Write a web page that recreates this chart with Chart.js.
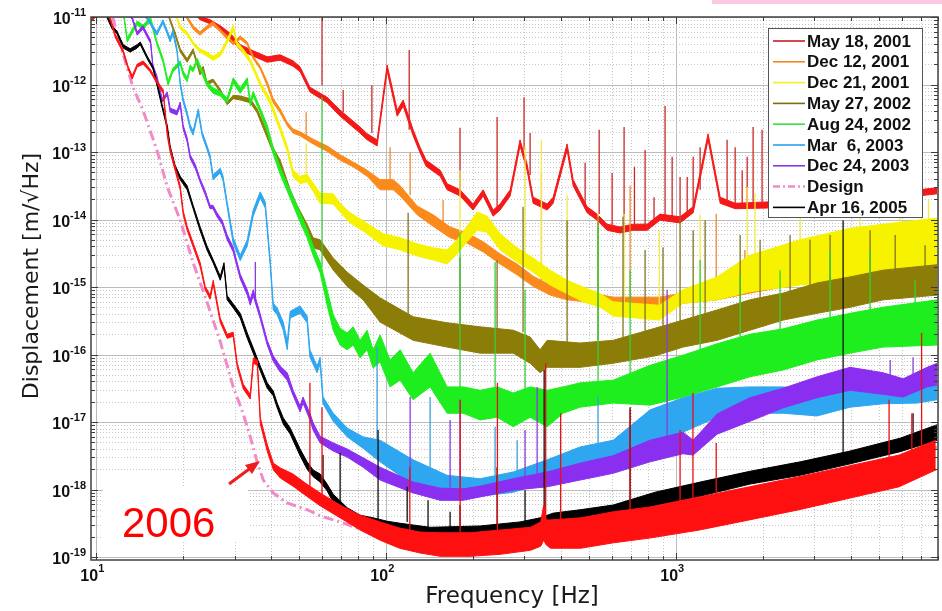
<!DOCTYPE html>
<html>
<head>
<meta charset="utf-8">
<script src="https://cdn.jsdelivr.net/npm/chart.js@4.4.1/dist/chart.umd.min.js"></script>
<style>
  html, body { margin: 0; padding: 0; background: #fff; }
  #wrap { width: 942px; height: 611px; position: relative; }
</style>
</head>
<body>
<div id="wrap"><canvas id="noiseChart"></canvas></div>
<script>
// Values. Frequencies in Hz, displacement as log10(m/sqrt(Hz)).
// hi / lo are the upper and lower edge of each noisy trace.

// May 18, 2001
const may2001Freq = [22.0, 22.8, 24.7, 26.8, 29.0, 31.4, 34.8, 38.9, 43.1, 47.8, 50.5, 54.6, 62.6, 69.4, 81.3, 86.0, 93.1, 100.8, 109.2, 114.5, 123.9, 130.9, 137.3, 153.6, 162.3, 179.8, 199.5, 216.1, 233.9, 247.2, 267.8, 289.6, 306.2, 321.3, 359.3, 376.6, 420.8, 441.5, 493.2, 533.8, 578, 641, 710.9, 794.3, 880, 1032, 1145, 1289, 1419, 1598, 2059, 2678, 3981, 5918, 7943];
const may2001Hi = [-10.90, -10.99, -11.04, -11.13, -11.24, -11.41, -11.50, -11.59, -11.56, -11.65, -11.74, -12.04, -12.19, -12.38, -12.63, -12.73, -12.82, -11.71, -12.38, -12.23, -12.67, -12.93, -13.12, -13.27, -13.47, -13.56, -13.77, -13.56, -13.86, -13.77, -13.56, -12.82, -13.18, -13.67, -13.77, -13.67, -12.88, -13.41, -13.81, -13.92, -14.07, -14.11, -14.07, -14.07, -13.92, -13.96, -13.81, -12.73, -13.67, -13.76, -13.74, -13.71, -13.67, -13.59, -13.53];
const may2001Lo = [-10.96, -11.04, -11.10, -11.19, -11.31, -11.49, -11.58, -11.67, -11.64, -11.73, -11.81, -12.11, -12.27, -12.47, -12.72, -12.82, -12.91, -11.80, -12.47, -12.32, -12.76, -13.01, -13.21, -13.36, -13.56, -13.65, -13.86, -13.65, -13.95, -13.86, -13.65, -12.91, -13.27, -13.76, -13.86, -13.76, -12.97, -13.50, -13.90, -14.01, -14.16, -14.20, -14.16, -14.16, -14.01, -14.05, -13.90, -12.82, -13.76, -13.84, -13.83, -13.80, -13.76, -13.68, -13.62];
const may2001SpikeFreq = [60.1, 71.1, 89.3, 120.1, 179.8, 241.4, 299, 313.7, 485.5, 542.8, 601.6, 661.6, 718.3, 781.7, 839.3, 916, 969, 1032, 1092, 1145, 1210, 1499, 1598, 1690, 1758, 1843, 1979];
const may2001SpikeBase = [-12.01, -12.41, -12.72, -12.67, -13.59, -13.86, -12.97, -13.34, -13.81, -13.92, -14.08, -14.11, -14.08, -14.07, -14.01, -13.95, -13.98, -13.98, -13.93, -13.86, -13.56, -13.71, -13.79, -13.79, -13.79, -13.79, -13.79];
const may2001SpikeTop = [-10.90, -12.08, -12.01, -11.49, -12.64, -12.48, -12.19, -12.72, -13.16, -12.67, -13.31, -12.63, -13.22, -12.97, -13.67, -12.32, -13.07, -13.37, -13.37, -13.07, -12.93, -12.82, -12.93, -13.27, -13.07, -12.63, -12.67];

// Dec 12, 2001
const dec12Freq = [19.95, 20.6, 21.6, 22.8, 24.1, 25.3, 26.8, 28.3, 29.7, 31.4, 33.2, 34.8, 36.8, 38.9, 40.8, 43.1, 45.6, 47.8, 50.5, 56.0, 62.6, 69.4, 77.0, 86.0, 95.3, 105.7, 111.8, 127.9, 145.2, 166.2, 190.2, 216.1, 247.2, 283, 321.3, 367.8, 420.8, 466.6, 606.4, 875, 1057, 1385, 1797, 2339, 3063, 3981, 5175, 7943];
const dec12Hi = [-10.90, -10.99, -11.13, -11.22, -11.13, -11.07, -11.18, -11.28, -11.37, -11.28, -11.37, -11.58, -11.73, -11.96, -12.21, -12.36, -12.56, -12.66, -12.70, -12.81, -12.91, -13.04, -13.15, -13.27, -13.41, -13.41, -13.50, -13.80, -13.93, -14.11, -14.20, -14.33, -14.51, -14.66, -14.84, -14.97, -15.04, -15.06, -15.15, -15.15, -15.09, -15.04, -14.94, -14.85, -14.75, -14.64, -14.56, -14.45];
const dec12Lo = [-10.94, -11.03, -11.18, -11.27, -11.18, -11.12, -11.22, -11.33, -11.41, -11.33, -11.41, -11.62, -11.77, -12.02, -12.27, -12.42, -12.61, -12.72, -12.76, -12.88, -12.99, -13.12, -13.22, -13.36, -13.56, -13.56, -13.65, -13.93, -14.10, -14.27, -14.35, -14.48, -14.66, -14.82, -14.99, -15.12, -15.19, -15.21, -15.30, -15.30, -15.24, -15.19, -15.09, -15.00, -14.90, -14.79, -14.70, -14.57];
const dec12SpikeFreq = [53.0, 103.2, 121, 157.2, 343.2, 694, 1375, 1726];
const dec12SpikeBase = [-12.75, -13.44, -13.64, -14.04, -15.04, -15.19, -15.07, -14.97];
const dec12SpikeTop = [-12.41, -12.93, -13.01, -13.71, -13.30, -13.50, -13.92, -14.45];

// Dec 21, 2001
const dec21Freq = [18.0, 19.0, 19.5, 20.6, 21.6, 22.8, 24.1, 25.3, 26.8, 28.3, 29.7, 30.6, 32.1, 34.0, 36.8, 39.8, 43.1, 45.6, 47.8, 50.5, 53.4, 56.0, 59.2, 65.7, 69.4, 74.6, 83.3, 97.6, 111.8, 127.9, 145.2, 162.3, 175.6, 190.2, 206, 223, 247.2, 283, 321.3, 367.8, 420.8, 477.6, 547.3, 606.4, 875, 1057, 1385, 1797, 2678, 3981, 5918, 7943];
const dec21Hi = [-10.90, -10.99, -11.13, -11.22, -11.37, -11.47, -11.52, -11.58, -11.52, -11.33, -11.12, -11.37, -11.47, -11.62, -11.96, -12.21, -12.61, -12.91, -13.27, -13.36, -13.33, -13.46, -13.61, -13.62, -13.76, -13.89, -14.02, -14.21, -14.27, -14.36, -14.42, -14.45, -14.30, -14.10, -13.89, -13.95, -14.21, -14.42, -14.57, -14.75, -14.90, -15.00, -15.10, -15.22, -15.27, -15.04, -14.85, -14.53, -14.30, -14.13, -14.04, -13.98];
const dec21Lo = [-10.94, -11.03, -11.18, -11.27, -11.41, -11.52, -11.58, -11.64, -11.58, -11.39, -11.19, -11.43, -11.53, -11.68, -12.02, -12.29, -12.69, -12.99, -13.37, -13.47, -13.44, -13.58, -13.76, -13.77, -13.89, -14.04, -14.17, -14.39, -14.45, -14.54, -14.60, -14.66, -14.51, -14.33, -14.16, -14.19, -14.45, -14.63, -14.78, -14.97, -15.10, -15.22, -15.30, -15.43, -15.49, -15.24, -15.19, -15.07, -14.97, -14.90, -14.82, -14.75];
const dec21SpikeFreq = [53.0, 179.8, 301.4, 343.2, 420.8, 538, 661.6, 875, 1210, 1758, 1871, 2678, 4311, 5918, 7420];
const dec21SpikeBase = [-13.41, -14.38, -14.67, -14.78, -14.93, -15.10, -15.24, -15.27, -15.01, -14.63, -14.60, -14.38, -14.16, -14.07, -14.01];
const dec21SpikeTop = [-12.87, -13.27, -12.91, -12.82, -13.64, -13.92, -13.92, -14.16, -13.93, -13.52, -13.61, -13.71, -13.64, -13.56, -13.71];

// May 27, 2002
const may2002Freq = [17.6, 18.0, 18.7, 19.5, 20.6, 21.6, 22.3, 22.8, 23.4, 24.1, 25.3, 26.8, 28.3, 29.7, 31.4, 34.0, 35.9, 38.3, 40.8, 43.1, 46.7, 49.3, 53.4, 56.0, 59.2, 65.7, 73.4, 83.3, 95.3, 123.9, 162.3, 210.9, 274.4, 313.7, 339.6, 359.3, 466.6, 606.4, 846.7, 1057, 1385, 1797, 2339, 3063, 3981, 5175, 7943];
const may2002Hi = [-10.90, -11.03, -11.22, -11.47, -11.62, -11.47, -11.67, -11.81, -11.73, -11.96, -11.92, -12.07, -12.26, -12.16, -12.17, -12.21, -12.36, -12.64, -12.94, -13.12, -13.56, -13.79, -14.07, -14.27, -14.30, -14.57, -14.78, -14.97, -15.16, -15.44, -15.53, -15.59, -15.64, -15.74, -15.93, -15.79, -15.83, -15.79, -15.61, -15.49, -15.34, -15.19, -15.09, -14.94, -14.85, -14.75, -14.67];
const may2002Lo = [-10.94, -11.07, -11.27, -11.52, -11.67, -11.52, -11.71, -11.86, -11.77, -12.01, -11.96, -12.11, -12.30, -12.21, -12.23, -12.27, -12.42, -12.72, -13.01, -13.21, -13.65, -13.89, -14.19, -14.42, -14.45, -14.75, -14.99, -15.19, -15.52, -15.79, -15.89, -15.98, -15.98, -16.13, -16.27, -16.19, -16.19, -16.13, -16.02, -15.89, -15.79, -15.64, -15.49, -15.39, -15.30, -15.19, -15.12];
const may2002SpikeFreq = [119.1, 179.8, 241.4, 296.6, 420.8, 538, 656, 781.7, 901, 1032, 1145, 1259, 1663, 1948, 2472, 2896, 3396, 4666, 5694, 7220];
const may2002SpikeBase = [-15.46, -15.56, -15.64, -15.67, -15.83, -15.79, -15.79, -15.71, -15.64, -15.52, -15.49, -15.44, -15.27, -15.19, -15.07, -15.00, -14.94, -14.79, -14.75, -14.69];
const may2002SpikeTop = [-13.90, -14.56, -14.60, -13.81, -14.01, -13.96, -13.96, -14.45, -14.41, -13.96, -14.16, -14.01, -14.23, -14.30, -14.23, -14.30, -14.23, -14.16, -14.23, -14.38];

// Aug 24, 2002
const aug2002Freq = [12.4, 12.8, 13.4, 13.85, 14.5, 15.4, 16.2, 17.0, 17.7, 18.4, 19.5, 19.95, 20.6, 21.1, 21.6, 22.3, 22.8, 24.1, 25.3, 26.8, 28.3, 29.7, 31.4, 33.2, 34.0, 34.8, 36.8, 38.9, 40.8, 43.1, 45.6, 47.8, 50.5, 53.4, 56.0, 59.2, 62.6, 65.7, 69.4, 73.4, 77.0, 81.3, 86.0, 90.2, 95.3, 103.2, 111.8, 123.9, 141.8, 162.3, 184.3, 210.9, 241.4, 274.4, 313.7, 359.3, 407.7, 466.6, 606.4, 813.5, 1057, 1385, 1797, 2339, 3063, 3981, 5175, 7943];
const aug2002Hi = [-10.90, -11.31, -11.16, -11.06, -11.12, -11.00, -11.36, -11.61, -11.95, -11.76, -11.65, -11.80, -11.90, -11.71, -11.76, -11.61, -11.71, -11.95, -12.05, -12.10, -12.20, -11.90, -12.05, -11.90, -12.24, -12.10, -12.35, -12.60, -12.93, -13.22, -13.47, -13.67, -13.90, -14.14, -14.39, -14.63, -15.04, -15.41, -15.61, -15.68, -15.59, -15.79, -15.64, -15.93, -15.71, -16.08, -15.93, -16.27, -15.98, -16.48, -16.48, -16.53, -16.48, -16.57, -16.48, -16.53, -16.48, -16.42, -16.38, -16.16, -16.01, -15.84, -15.70, -15.62, -15.49, -15.39, -15.30, -15.19];
const aug2002Lo = [-10.94, -11.37, -11.22, -11.12, -11.18, -11.06, -11.41, -11.67, -12.01, -11.81, -11.71, -11.86, -11.96, -11.77, -11.81, -11.67, -11.77, -12.02, -12.13, -12.17, -12.27, -11.98, -12.13, -11.98, -12.32, -12.17, -12.42, -12.69, -13.03, -13.33, -13.58, -13.79, -14.04, -14.27, -14.53, -14.79, -15.27, -15.64, -15.86, -15.93, -15.86, -16.05, -15.93, -16.20, -16.11, -16.48, -16.38, -16.67, -16.48, -16.87, -16.87, -16.97, -16.93, -17.07, -16.93, -17.07, -16.87, -16.78, -16.72, -16.75, -16.63, -16.48, -16.33, -16.23, -16.08, -15.98, -15.89, -15.86];
const aug2002SpikeFreq = [60.1, 179.8, 237.6, 301.4, 538, 694, 1210, 1663, 2283, 3396, 4666, 6670];
const aug2002SpikeBase = [-14.70, -16.60, -16.56, -16.56, -16.45, -16.45, -16.01, -15.79, -15.71, -15.49, -15.34, -15.27];
const aug2002SpikeTop = [-12.19, -14.19, -14.63, -15.04, -14.11, -14.75, -14.60, -14.82, -14.75, -14.45, -14.45, -14.90];

// Mar 6, 2003
const mar2003Freq = [14.5, 15.0, 16.2, 17.0, 18.0, 18.4, 19.0, 19.5, 19.95, 20.6, 21.1, 21.6, 22.5, 23.2, 24.1, 24.7, 25.3, 26.8, 27.4, 28.3, 29.7, 31.4, 33.2, 34.8, 36.8, 38.3, 39.8, 40.8, 42.1, 44.2, 45.6, 46.7, 50.5, 53.4, 54.6, 57.8, 59.2, 60.6, 65.7, 73.4, 83.3, 95.3, 123.9, 162.3, 210.9, 274.4, 359.3, 466.6, 606.4, 813.5, 1057, 1385, 1797, 2339, 3063, 3981, 5175, 6777, 7943];
const mar2003Hi = [-10.93, -11.00, -11.22, -11.04, -11.31, -11.19, -11.46, -11.96, -12.20, -12.41, -12.60, -12.69, -12.36, -12.70, -12.90, -13.04, -13.34, -13.24, -13.36, -13.74, -14.27, -14.53, -14.30, -13.86, -13.59, -13.74, -14.57, -15.24, -15.31, -15.52, -15.81, -15.36, -15.28, -15.43, -15.93, -16.17, -16.04, -16.63, -16.87, -17.09, -17.22, -17.27, -17.56, -17.79, -17.84, -17.74, -17.56, -17.37, -17.27, -16.82, -16.64, -16.50, -16.48, -16.48, -16.53, -16.48, -16.50, -16.47, -16.38];
const mar2003Lo = [-10.97, -11.04, -11.27, -11.09, -11.37, -11.25, -11.52, -12.02, -12.26, -12.47, -12.66, -12.75, -12.42, -12.76, -12.96, -13.10, -13.41, -13.31, -13.43, -13.81, -14.36, -14.61, -14.39, -13.95, -13.68, -13.83, -14.67, -15.34, -15.41, -15.64, -15.93, -15.46, -15.39, -15.53, -16.04, -16.27, -16.14, -16.73, -16.99, -17.22, -17.39, -17.59, -17.93, -18.10, -18.10, -18.04, -17.89, -17.70, -17.59, -17.27, -17.15, -16.93, -16.87, -16.87, -16.91, -16.78, -16.73, -16.72, -16.67];
const mar2003SpikeFreq = [93.1, 141.8, 237.6, 283, 538, 931];
const mar2003SpikeBase = [-17.27, -17.71, -17.86, -17.79, -17.39, -16.85];
const mar2003SpikeTop = [-15.89, -16.63, -17.07, -17.27, -16.63, -16.38];

// Dec 24, 2003
const dec2003Freq = [12.9, 13.3, 13.85, 14.5, 15.4, 15.7, 16.2, 16.9, 17.6, 18.0, 19.0, 19.5, 19.95, 20.6, 21.1, 22.0, 22.8, 23.8, 24.7, 25.3, 26.1, 27.2, 28.3, 29.7, 30.6, 31.4, 33.2, 34.0, 34.8, 36.8, 38.9, 40.8, 43.1, 45.6, 47.8, 50.5, 51.7, 54.6, 56.0, 59.2, 65.7, 73.4, 83.3, 95.3, 123.9, 153.6, 184.3, 210.9, 274.4, 359.3, 466.6, 606.4, 813.5, 1057, 1145, 1385, 1797, 2339, 3063, 3981, 5175, 6066, 7338, 7943];
const dec2003Hi = [-10.93, -10.99, -11.22, -11.13, -11.34, -11.71, -11.87, -12.21, -12.11, -12.35, -12.39, -12.26, -12.60, -12.79, -13.04, -13.19, -13.39, -13.58, -13.79, -13.79, -13.90, -14.01, -14.23, -14.41, -14.63, -14.81, -15.04, -15.19, -15.04, -15.40, -15.79, -16.02, -16.17, -16.27, -16.53, -16.76, -16.63, -16.87, -17.01, -17.21, -17.31, -17.40, -17.53, -17.67, -17.89, -17.98, -17.99, -17.95, -17.84, -17.74, -17.61, -17.50, -17.27, -17.15, -17.27, -16.88, -16.64, -16.50, -16.33, -16.19, -16.27, -16.36, -16.19, -16.13];
const dec2003Lo = [-10.97, -11.03, -11.27, -11.18, -11.39, -11.76, -11.92, -12.26, -12.16, -12.41, -12.45, -12.32, -12.66, -12.85, -13.10, -13.25, -13.44, -13.64, -13.84, -13.84, -13.96, -14.07, -14.30, -14.48, -14.70, -14.88, -15.12, -15.27, -15.13, -15.47, -15.86, -16.10, -16.26, -16.38, -16.61, -16.85, -16.72, -16.97, -17.12, -17.31, -17.43, -17.52, -17.67, -17.86, -18.05, -18.16, -18.16, -18.11, -18.01, -17.96, -17.86, -17.76, -17.59, -17.47, -17.49, -17.18, -16.99, -16.79, -16.64, -16.53, -16.59, -16.63, -16.48, -16.45];
const dec2003SpikeFreq = [35.4, 121, 166.2, 179.8, 301.4, 331.7, 931, 5473, 6563];
const dec2003SpikeBase = [-15.19, -17.92, -18.08, -18.08, -17.93, -17.86, -17.27, -16.32, -16.35];
const dec2003SpikeTop = [-14.63, -16.63, -16.97, -16.67, -17.12, -16.48, -15.04, -16.08, -16.04];

// Design
const designFreq = [11.4, 11.9, 13.4, 14.5, 16.2, 17.6, 19.5, 21.6, 24.1, 26.8, 29.7, 32.1, 34.0, 35.9, 37.7, 40.8, 45.6, 53.4, 59.2, 69.4, 112, 314, 1000, 3980, 7940];
const designLog = [-11.00, -11.30, -12.04, -12.38, -12.97, -13.52, -14.01, -14.64, -15.22, -15.81, -16.48, -16.87, -17.22, -17.59, -17.86, -18.05, -18.20, -18.30, -18.39, -18.48, -18.80, -18.75, -18.45, -17.85, -17.37];

// Apr 16, 2005
const apr2005Freq = [10.9, 11.36, 11.8, 12.4, 13.1, 13.85, 14.2, 15.0, 15.7, 16.2, 16.9, 17.6, 18.0, 18.7, 19.5, 20.6, 21.6, 22.8, 24.1, 25.3, 26.8, 27.6, 28.3, 29.7, 31.4, 33.2, 34.8, 36.8, 38.9, 40.8, 42.1, 44.2, 46.7, 50.5, 53.4, 56.0, 59.2, 62.6, 65.7, 73.4, 81.3, 90.2, 100.8, 111.8, 141.8, 210.9, 289.6, 339.6, 376.6, 466.6, 606.4, 846.7, 1210, 1797, 2678, 3981, 5918, 7943];
const apr2005Hi = [-10.97, -11.13, -11.21, -11.41, -11.47, -11.41, -11.37, -11.58, -11.73, -11.96, -12.30, -12.61, -12.91, -13.19, -13.36, -13.50, -13.79, -14.10, -14.39, -14.59, -14.84, -14.64, -15.13, -15.25, -15.39, -15.68, -15.90, -16.17, -16.42, -16.54, -16.72, -16.94, -17.09, -17.40, -17.59, -17.71, -17.77, -17.92, -18.07, -18.27, -18.38, -18.42, -18.47, -18.50, -18.56, -18.54, -18.48, -18.42, -18.35, -18.30, -18.23, -18.04, -17.89, -17.73, -17.59, -17.43, -17.24, -17.04];
const apr2005Lo = [-11.01, -11.18, -11.25, -11.46, -11.52, -11.46, -11.41, -11.62, -11.77, -12.01, -12.35, -12.66, -12.96, -13.24, -13.41, -13.56, -13.84, -14.16, -14.45, -14.64, -14.90, -14.70, -15.19, -15.31, -15.46, -15.76, -15.98, -16.24, -16.50, -16.61, -16.79, -17.03, -17.18, -17.50, -17.70, -17.81, -17.89, -18.02, -18.19, -18.39, -18.51, -18.57, -18.63, -18.67, -18.76, -18.72, -18.66, -18.63, -18.57, -18.54, -18.44, -18.24, -18.10, -17.92, -17.79, -17.62, -17.44, -17.27];
const apr2005SpikeFreq = [60.6, 69.4, 93.8, 118.2, 139.5, 166.2, 179.8, 241.4, 301.4, 350.7, 694, 3766, 6563];
const apr2005SpikeBase = [-17.83, -18.23, -18.45, -18.48, -18.57, -18.57, -18.57, -18.57, -18.48, -18.42, -18.23, -17.49, -17.16];
const apr2005SpikeTop = [-17.49, -17.46, -17.12, -17.96, -18.16, -18.33, -18.23, -17.67, -18.01, -16.23, -16.78, -14.01, -16.87];

// 2006 (no legend entry)
const run2006Freq = [9.61, 10.66, 11.18, 11.63, 12.39, 12.89, 13.31, 13.85, 14.52, 15.35, 16.24, 17.03, 17.59, 17.99, 19.48, 19.96, 20.60, 21.62, 22.85, 23.77, 24.73, 25.33, 26.77, 28.31, 29.69, 30.66, 32.16, 34.00, 34.83, 35.96, 36.83, 38.95, 40.86, 43.16, 47.72, 53.24, 59.18, 69.40, 81.33, 95.29, 111.2, 130.8, 153.7, 194.9, 247.9, 314.9, 341.3, 349.5, 356.2, 369.1, 469, 607.5, 809, 1204, 1789, 2653, 3948, 5873, 7860];
const run2006Hi = [-11.01, -10.82, -11.00, -11.25, -11.49, -11.73, -11.87, -11.70, -11.65, -11.77, -11.95, -12.08, -12.70, -12.94, -13.49, -13.87, -14.10, -14.35, -14.64, -14.99, -15.12, -14.90, -15.46, -15.70, -15.67, -16.13, -16.44, -16.59, -16.05, -16.08, -16.94, -17.34, -17.61, -17.68, -17.77, -17.92, -18.05, -18.23, -18.38, -18.48, -18.57, -18.63, -18.64, -18.64, -18.60, -18.56, -18.48, -18.23, -18.45, -18.45, -18.42, -18.33, -18.26, -18.11, -17.96, -17.81, -17.65, -17.49, -17.27];
const run2006Lo = [-11.07, -10.87, -11.04, -11.30, -11.53, -11.77, -11.92, -11.74, -11.70, -11.81, -11.99, -12.13, -12.76, -13.00, -13.55, -13.93, -14.16, -14.41, -14.70, -15.04, -15.18, -14.96, -15.52, -15.76, -15.73, -16.19, -16.51, -16.66, -16.13, -16.16, -17.03, -17.44, -17.71, -17.83, -17.95, -18.10, -18.24, -18.42, -18.60, -18.75, -18.87, -18.94, -18.99, -18.99, -18.96, -18.90, -18.84, -18.75, -18.82, -18.87, -18.87, -18.79, -18.72, -18.60, -18.45, -18.30, -18.13, -17.96, -17.71];
const run2006SpikeFreq = [54.6, 60.1, 120.7, 180, 242, 355, 399.7, 693.5, 1032, 1143, 1375, 5425, 6500, 7023];
const run2006SpikeBase = [-18.01, -18.16, -18.64, -18.67, -18.63, -18.45, -18.53, -18.33, -18.23, -18.20, -18.13, -17.56, -17.49, -17.41];
const run2006SpikeTop = [-16.42, -16.78, -17.67, -16.67, -16.42, -16.13, -16.87, -16.82, -17.12, -16.57, -17.31, -16.67, -16.87, -15.68];

// axis ticks
const xTickExps = [1, 2, 3];
const yTickExps = [-19, -18, -17, -16, -15, -14, -13, -12, -11];

const toVal = e => Math.pow(10, e);
const pts = (freq, logs) => freq.map((f, i) => ({ x: f, y: toVal(logs[i]) }));
function spikePts(freq, base, top) {
  const out = [];
  freq.forEach((f, i) => {
    out.push({ x: f, y: toVal(base[i]) }, { x: f, y: toVal(top[i]) }, { x: f, y: null });
  });
  return out;
}

// traces, top-most first
const traces = [
  { freq: run2006Freq, hi: run2006Hi, lo: run2006Lo, sf: run2006SpikeFreq, sb: run2006SpikeBase, st: run2006SpikeTop, color: '#ff1010', spike: '#e81010' },
  { freq: apr2005Freq, hi: apr2005Hi, lo: apr2005Lo, sf: apr2005SpikeFreq, sb: apr2005SpikeBase, st: apr2005SpikeTop, color: '#000000', spike: '#111111' },
  { design: true },
  { freq: dec2003Freq, hi: dec2003Hi, lo: dec2003Lo, sf: dec2003SpikeFreq, sb: dec2003SpikeBase, st: dec2003SpikeTop, color: '#8a2ef0', spike: '#8a3ce0' },
  { freq: mar2003Freq, hi: mar2003Hi, lo: mar2003Lo, sf: mar2003SpikeFreq, sb: mar2003SpikeBase, st: mar2003SpikeTop, color: '#2ea6f0', spike: '#3a9ee0' },
  { freq: aug2002Freq, hi: aug2002Hi, lo: aug2002Lo, sf: aug2002SpikeFreq, sb: aug2002SpikeBase, st: aug2002SpikeTop, color: '#1eee1e', spike: '#38d038' },
  { freq: may2002Freq, hi: may2002Hi, lo: may2002Lo, sf: may2002SpikeFreq, sb: may2002SpikeBase, st: may2002SpikeTop, color: '#8c7c08', spike: '#827420' },
  { freq: dec21Freq, hi: dec21Hi, lo: dec21Lo, sf: dec21SpikeFreq, sb: dec21SpikeBase, st: dec21SpikeTop, color: '#f6f200', spike: '#f2ea40' },
  { freq: dec12Freq, hi: dec12Hi, lo: dec12Lo, sf: dec12SpikeFreq, sb: dec12SpikeBase, st: dec12SpikeTop, color: '#fb8a1c', spike: '#ec8c30' },
  { freq: may2001Freq, hi: may2001Hi, lo: may2001Lo, sf: may2001SpikeFreq, sb: may2001SpikeBase, st: may2001SpikeTop, color: '#f41818', spike: '#cc2828' }
];

const legendItems = [
  { label: 'May 18, 2001', color: '#c41e24' },
  { label: 'Dec 12, 2001', color: '#f08a24' },
  { label: 'Dec 21, 2001', color: '#f2f020' },
  { label: 'May 27, 2002', color: '#7a6e10' },
  { label: 'Aug 24, 2002', color: '#3ee03e' },
  { label: 'Mar  6, 2003', color: '#2aa0ee' },
  { label: 'Dec 24, 2003', color: '#8a38e6' },
  { label: 'Design', color: '#f08cc8', dash: true },
  { label: 'Apr 16, 2005', color: '#000000' }
];

const datasets = [];
traces.forEach((t, order) => {
  if (t.design) {
    datasets.push({
      data: pts(designFreq, designLog), borderColor: '#f28ac8', borderWidth: 3,
      borderDash: [10, 4, 2, 4], pointRadius: 0, fill: false, order
    });
    return;
  }
  datasets.push({ data: pts(t.freq, t.hi), borderColor: t.color, borderWidth: 1, pointRadius: 0, fill: false, order });
  datasets.push({ data: pts(t.freq, t.lo), borderColor: t.color, backgroundColor: t.color, borderWidth: 1, pointRadius: 0, fill: '-1', order });
  datasets.push({ data: spikePts(t.sf, t.sb, t.st), borderColor: t.spike, borderWidth: 1.3, pointRadius: 0, fill: false, spanGaps: false, order });
});

function gridList(decades, min, max) {
  const out = [];
  decades.forEach(d => {
    for (let m = 1; m <= 9; m++) {
      const v = m * d;
      if (v >= min * 0.999 && v <= max * 1.001) out.push({ v, major: m === 1 });
    }
  });
  return out;
}

const frame = {
  id: 'frame',
  beforeDatasetsDraw(chart) {
    const { ctx, chartArea: a, scales: { x, y } } = chart;
    ctx.save();
    ctx.lineWidth = 1;
    // minor dotted grid
    ctx.strokeStyle = '#c6c6c6';
    ctx.setLineDash([1, 2]);
    gridList([10, 100, 1000], x.min, x.max).forEach(g => {
      if (g.major) return;
      const px = Math.round(x.getPixelForValue(g.v)) + 0.5;
      ctx.beginPath(); ctx.moveTo(px, a.top); ctx.lineTo(px, a.bottom); ctx.stroke();
    });
    gridList([1e-20, 1e-19, 1e-18, 1e-17, 1e-16, 1e-15, 1e-14, 1e-13, 1e-12, 1e-11], y.min, y.max).forEach(g => {
      if (g.major) return;
      const py = Math.round(y.getPixelForValue(g.v)) + 0.5;
      ctx.beginPath(); ctx.moveTo(a.left, py); ctx.lineTo(a.right, py); ctx.stroke();
    });
    // decade lines
    ctx.setLineDash([]);
    ctx.strokeStyle = '#bcbcbc';
    xTickExps.forEach(e => {
      const px = Math.round(x.getPixelForValue(toVal(e))) + 0.5;
      ctx.beginPath(); ctx.moveTo(px, a.top); ctx.lineTo(px, a.bottom); ctx.stroke();
    });
    yTickExps.forEach(e => {
      const py = Math.round(y.getPixelForValue(toVal(e))) + 0.5;
      ctx.beginPath(); ctx.moveTo(a.left, py); ctx.lineTo(a.right, py); ctx.stroke();
    });
    ctx.restore();
  },
  afterDatasetsDraw(chart) {
    const { ctx, chartArea: a, scales: { x, y } } = chart;
    ctx.save();
    // tick marks inside the box
    ctx.strokeStyle = '#3c3c3c';
    ctx.lineWidth = 1;
    gridList([10, 100, 1000], x.min, x.max).forEach(g => {
      const px = Math.round(x.getPixelForValue(g.v)) + 0.5;
      const len = g.major ? 7 : 4;
      ctx.beginPath();
      ctx.moveTo(px, a.bottom); ctx.lineTo(px, a.bottom - len);
      ctx.moveTo(px, a.top); ctx.lineTo(px, a.top + len);
      ctx.stroke();
    });
    gridList([1e-20, 1e-19, 1e-18, 1e-17, 1e-16, 1e-15, 1e-14, 1e-13, 1e-12, 1e-11], y.min, y.max).forEach(g => {
      const py = Math.round(y.getPixelForValue(g.v)) + 0.5;
      const len = g.major ? 7 : 4;
      ctx.beginPath();
      ctx.moveTo(a.left, py); ctx.lineTo(a.left + len, py);
      ctx.moveTo(a.right, py); ctx.lineTo(a.right - len, py);
      ctx.stroke();
    });
    ctx.lineWidth = 1.5;
    ctx.strokeStyle = '#404040';
    ctx.strokeRect(a.left, a.top, a.right - a.left, a.bottom - a.top);

    // tick labels
    ctx.fillStyle = '#111';
    ctx.textBaseline = 'middle';
    yTickExps.forEach(e => {
      const py = y.getPixelForValue(toVal(e));
      ctx.font = 'bold 11px "Liberation Sans", Arial, sans-serif';
      ctx.textAlign = 'right';
      const sup = String(e);
      ctx.fillText(sup, 86, py - 4);
      const supW = ctx.measureText(sup).width;
      ctx.font = 'bold 16px "Liberation Sans", Arial, sans-serif';
      ctx.fillText('10', 86 - supW, py + 3);
    });
    xTickExps.forEach(e => {
      const px = x.getPixelForValue(toVal(e));
      ctx.font = 'bold 16px "Liberation Sans", Arial, sans-serif';
      ctx.textAlign = 'right';
      ctx.fillText('10', px + 2, 577);
      ctx.font = 'bold 11px "Liberation Sans", Arial, sans-serif';
      ctx.textAlign = 'left';
      ctx.fillText(String(e), px + 2, 569);
    });

    // axis titles
    ctx.fillStyle = '#1a1a1a';
    ctx.font = '23px "DejaVu Sans", sans-serif';
    ctx.textAlign = 'center';
    ctx.fillText('Frequency [Hz]', 512, 597);
    ctx.save();
    ctx.translate(32, 276);
    ctx.rotate(-Math.PI / 2);
    ctx.font = '22px "DejaVu Sans", sans-serif';
    ctx.fillText('Displacement [m/\u221AHz]', 0, 0);
    ctx.restore();

    // legend
    const lx = 768, ly = 28, lw = 154, lh = 189;
    ctx.fillStyle = '#ffffff';
    ctx.fillRect(lx, ly, lw, lh);
    ctx.strokeStyle = '#555';
    ctx.lineWidth = 1;
    ctx.strokeRect(lx + 0.5, ly + 0.5, lw, lh);
    ctx.font = 'bold 17px "Liberation Sans", Arial, sans-serif';
    ctx.textAlign = 'left';
    legendItems.forEach((it, i) => {
      const ry = 41 + i * 20.8;
      ctx.strokeStyle = it.color;
      ctx.lineWidth = it.dash ? 2.5 : 1.6;
      ctx.setLineDash(it.dash ? [7, 3, 2, 3] : []);
      ctx.beginPath(); ctx.moveTo(773, ry); ctx.lineTo(805, ry); ctx.stroke();
      ctx.setLineDash([]);
      ctx.fillStyle = '#111';
      ctx.fillText(it.label, 807, ry + 1);
    });

    // 2006 note with arrow
    ctx.fillStyle = '#ffffff';
    ctx.fillRect(103, 486, 145, 54);
    ctx.fillStyle = '#ff0000';
    ctx.font = '42px "Liberation Sans", Arial, sans-serif';
    ctx.textBaseline = 'alphabetic';
    ctx.fillText('2006', 122, 537);
    ctx.strokeStyle = '#ee1c1c';
    ctx.lineWidth = 3;
    ctx.beginPath(); ctx.moveTo(229, 484); ctx.lineTo(252, 467); ctx.stroke();
    ctx.fillStyle = '#ee1c1c';
    ctx.beginPath(); ctx.moveTo(260, 461); ctx.lineTo(245, 465); ctx.lineTo(252, 474); ctx.closePath(); ctx.fill();

    // pink strip at the top right
    ctx.fillStyle = '#fcc8e2';
    ctx.fillRect(712, 0, 230, 4);
    ctx.restore();
  }
};

new Chart(document.getElementById('noiseChart'), {
  type: 'line',
  data: { datasets },
  options: {
    responsive: true,
    maintainAspectRatio: false,
    animation: false,
    events: [],
    layout: { padding: { left: 91, top: 17, right: 4, bottom: 51 } },
    elements: { line: { tension: 0 }, point: { radius: 0 } },
    scales: {
      x: { type: 'logarithmic', min: 9.6, max: 8000, display: false },
      y: { type: 'logarithmic', min: 9.03e-20, max: 1e-11, display: false }
    },
    plugins: { legend: { display: false }, tooltip: { enabled: false } }
  },
  plugins: [frame]
});
</script>
</body>
</html>
